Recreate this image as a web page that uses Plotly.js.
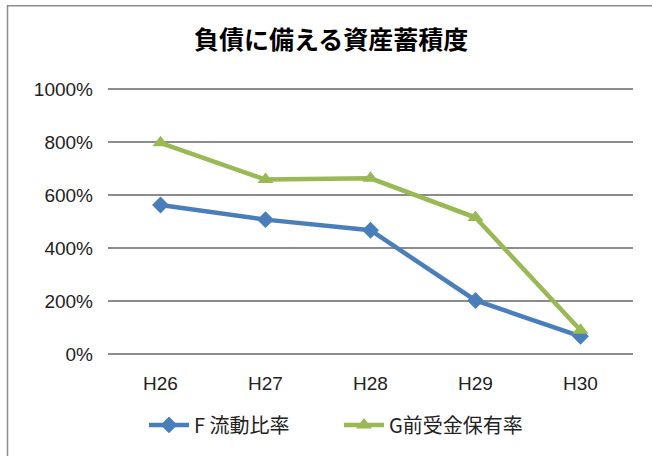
<!DOCTYPE html>
<html><head><meta charset="utf-8">
<script src="https://cdn.plot.ly/plotly-3.0.1.min.js"></script>
<style>body{margin:0;background:#fff}#c{width:652px;height:456px}</style>
</head><body><div id="c"></div>
<script>
const categories = ["H26","H27","H28","H29","H30"];
const seriesF = [562, 507, 467, 202, 67];
const seriesG = [797, 658, 663, 515, 90];
const nameF = "F 流動比率";
const nameG = "G前受金保有率";
const yTicks = [0,200,400,600,800,1000];
const yTickText = yTicks.map(v => v + "%");

const font = "'Noto Sans CJK JP', 'Noto Sans', sans-serif";
const tickFont = "'Liberation Sans', 'Noto Sans', sans-serif";
const traces = [
  {x: categories, y: seriesF, name: nameF, type: "scatter", mode: "lines+markers",
   line: {color: "#4A7EBB", width: 4.5}, marker: {symbol: "diamond", size: 13, color: "#4A7EBB"}},
  {x: categories, y: seriesG, name: nameG, type: "scatter", mode: "lines+markers",
   line: {color: "#98B954", width: 4.5}, marker: {symbol: "triangle-up", size: 14, color: "#98B954"}}
];
const layout = {
  width: 652, height: 456,
  margin: {l: 108, r: 19, t: 85, b: 93},
  paper_bgcolor: "#fff", plot_bgcolor: "#fff",
  title: {text: "負債に備える資産蓄積度", x: 0.508, xanchor: "center", y: 0.912, yanchor: "middle",
          font: {family: font, size: 25, color: "#000", weight: "bold"}},
  xaxis: {type: "category", range: [-0.5, 4.5], showgrid: false, showline: false, zeroline: false, ticks: "",
          ticklabelstandoff: 12,
          tickfont: {family: tickFont, size: 19, color: "#222"}, fixedrange: true},
  yaxis: {range: [-15, 1015], tickvals: yTicks, ticktext: yTickText, showgrid: true,
          gridcolor: "#8c8c8c", gridwidth: 1.3, zeroline: false, showline: false, ticks: "",
          ticklen: 0, ticklabelstandoff: 14, tickfont: {family: tickFont, size: 19, color: "#222"}, fixedrange: true},
  showlegend: true,
  legend: {orientation: "h", x: 0.44, xanchor: "center", y: -0.245, yanchor: "middle",
           font: {family: font, size: 20, color: "#222"}, itemwidth: 40, tracegroupgap: 0,
           entrywidth: 140, entrywidthmode: "pixels"},
  shapes: [{type: "rect", xref: "paper", yref: "paper", x0: -0.1914, x1: 1.3, y0: -0.6, y1: 1.29,
            line: {color: "#8c8c8c", width: 1.5}, fillcolor: "rgba(0,0,0,0)", layer: "below"}]
};
Plotly.newPlot("c", traces, layout, {displayModeBar: false, staticPlot: true});
</script></body></html>
